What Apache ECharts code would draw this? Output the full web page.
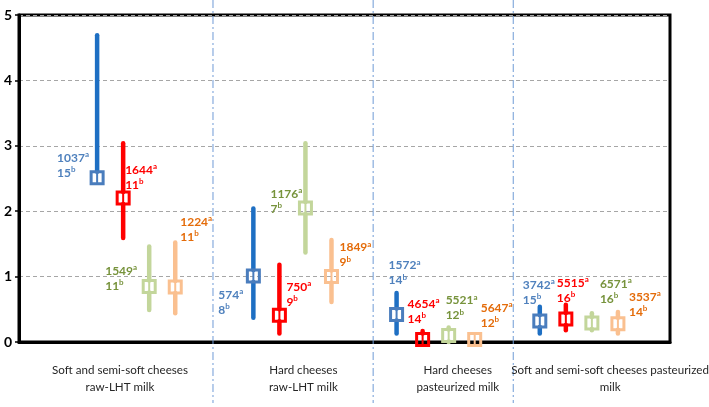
<!DOCTYPE html>
<html><head><meta charset="utf-8">
<script src="https://cdn.jsdelivr.net/npm/echarts@6/dist/echarts.min.js"></script>
<style>html,body{margin:0;padding:0;background:#fff}#c{width:709px;height:407px}</style>
</head><body><div id="c"></div>
<script>
// ---------- data ----------
const groups = ['Soft and semi-soft cheeses\nraw-LHT milk', 'Hard cheeses\nraw-LHT milk', 'Hard cheeses\npasteurized milk', 'Soft and semi-soft cheeses pasteurized\nmilk'];
const seriesNames = ['Series 1', 'Series 2', 'Series 3', 'Series 4'];
const yTicks = [0, 1, 2, 3, 4, 5];

const meanBlue   = [2.51, 1.01, 0.42, 0.32];
const lowBlue    = [2.51, 0.37, 0.13, 0.13];
const highBlue   = [4.69, 2.04, 0.75, 0.54];
const nBlue      = [1037, 574, 1572, 3742];
const kBlue      = [15, 8, 14, 15];

const meanRed    = [2.20, 0.41, 0.04, 0.35];
const lowRed     = [1.59, 0.13, 0.00, 0.18];
const highRed    = [3.04, 1.18, 0.17, 0.57];
const nRed       = [1644, 750, 4654, 5515];
const kRed       = [11, 9, 14, 16];

const meanGreen  = [0.85, 2.05, 0.10, 0.29];
const lowGreen   = [0.49, 1.37, 0.00, 0.18];
const highGreen  = [1.46, 3.04, 0.22, 0.44];
const nGreen     = [1549, 1176, 5521, 6571];
const kGreen     = [11, 7, 12, 16];

const meanOrange = [0.84, 1.00, 0.04, 0.28];
const lowOrange  = [0.44, 0.61, 0.00, 0.13];
const highOrange = [1.52, 1.56, 0.08, 0.46];
const nOrange    = [1224, 1849, 5647, 3537];
const kOrange    = [11, 9, 12, 14];

// ---------- layout / style ----------
const groupCenters = [4.5, 10.5, 16, 21.5];
const seriesOffsets = [-1.5, -0.5, 0.5, 1.5];
const separators = [7.45, 13.6, 18.98];
const labelCenters = [3.88, 10.92, 16.85, 22.7];
const styles = [
  {line: '#1E6FC3', box: '#4A7DBD', text: '#4F81BD'},
  {line: '#FF0000', box: '#FF0000', text: '#FF0000'},
  {line: '#C3D69B', box: '#C3D69B', text: '#77933C'},
  {line: '#FAC090', box: '#FAC090', text: '#E46C0A'}
];
// label offsets (px) relative to the marker: [dx of left edge, dy of first line centre]
const labelOffsets = [
  [[-40, -20], [-35, 19], [-8, -49], [-17, -36]],
  [[2, -28], [7, -28], [-15, -35], [-9, -36]],
  [[-44, -15], [-35, -14], [-3, -35], [8, -39]],
  [[5, -65], [8, -29], [6, -31], [11, -27]]
];

const means = [meanBlue, meanRed, meanGreen, meanOrange];
const lows = [lowBlue, lowRed, lowGreen, lowOrange];
const highs = [highBlue, highRed, highGreen, highOrange];
const ns = [nBlue, nRed, nGreen, nOrange];
const ks = [kBlue, kRed, kGreen, kOrange];
const FONT = 'Lato, "Open Sans", sans-serif';

function makeSeries(s) {
  const data = groups.map((g, i) => [groupCenters[i] + seriesOffsets[s], means[s][i], lows[s][i], highs[s][i], ns[s][i], ks[s][i], i]);
  const st = styles[s];
  return {
    type: 'custom', name: seriesNames[s], clip: false, z: 5 + s,
    encode: {x: 0, y: 1},
    data: data,
    renderItem: function (params, api) {
      const x = api.value(0), m = api.value(1), lo = api.value(2), hi = api.value(3);
      const n = api.value(4), k = api.value(5), gi = api.value(6);
      const pm = api.coord([x, m]), ph = api.coord([x, hi]), pl = api.coord([x, lo]);
      const half = 6;
      const ch = [];
      if (ph[1] < pm[1] - half) ch.push({type: 'line', shape: {x1: pm[0], y1: ph[1], x2: pm[0], y2: pm[1] - half}, style: {stroke: st.line, lineWidth: 4.5, lineCap: 'round'}});
      if (pl[1] > pm[1] + half) ch.push({type: 'line', shape: {x1: pm[0], y1: pm[1] + half, x2: pm[0], y2: pl[1]}, style: {stroke: st.line, lineWidth: 4.5, lineCap: 'round'}});
      ch.push({type: 'line', shape: {x1: pm[0], y1: pm[1] - half, x2: pm[0], y2: pm[1] + half}, style: {stroke: st.box, lineWidth: 2}});
      ch.push({type: 'rect', shape: {x: pm[0] - half, y: pm[1] - half, width: 2 * half, height: 2 * half}, style: {stroke: st.box, fill: null, lineWidth: 3}});
      const off = labelOffsets[s][gi];
      ch.push({type: 'text', style: {
        text: '{n|' + n + '}{s|a}\n{n|' + k + '}{s|b}',
        x: pm[0] + off[0], y: pm[1] + off[1] - 7.5,
        align: 'left', verticalAlign: 'top', fill: st.text,
        rich: {
          n: {fontSize: 12, fontWeight: 'bold', fontFamily: FONT, lineHeight: 15, fill: st.text},
          s: {fontSize: 8, fontWeight: 'bold', fontFamily: FONT, lineHeight: 8, verticalAlign: 'top', fill: st.text}
        }
      }});
      return {type: 'group', children: ch};
    }
  };
}

const chart = echarts.init(document.getElementById('c'), null, {renderer: 'canvas'});
const series = [0, 1, 2, 3].map(makeSeries);
series.unshift({
  type: 'custom', name: 'separators', clip: false, silent: true, z: 1,
  encode: {x: 0},
  data: separators.map(v => [v, 0]),
  renderItem: function (params, api) {
    const p = api.coord([api.value(0), 0]);
    return {type: 'line', shape: {x1: p[0], y1: 0, x2: p[0], y2: api.getHeight() - 4},
      style: {stroke: '#6F9BD6', lineWidth: 1, lineDash: [8, 3, 2, 3]}};
  }
});
// category labels below the axis
series.push({
  type: 'custom', name: 'groupLabels', clip: false, silent: true, z: 2,
  encode: {x: 0},
  data: labelCenters.map((v, i) => [v, 0, i]),
  renderItem: function (params, api) {
    const p = api.coord([api.value(0), 0]);
    return {type: 'text', style: {
      text: groups[api.value(2)], x: p[0], y: p[1] + 20,
      align: 'center', verticalAlign: 'top', fill: '#262626',
      fontFamily: FONT, fontSize: 11.6, lineHeight: 17
    }};
  }
});

chart.setOption({
  animation: false,
  backgroundColor: '#fff',
  grid: {left: 19, right: 39, top: 15, bottom: 65, show: true, borderColor: '#000', borderWidth: 3, backgroundColor: 'transparent'},
  xAxis: {
    type: 'value', min: 0, max: 25,
    axisLine: {show: true, onZero: false, lineStyle: {color: '#000', width: 3}},
    axisTick: {show: false},
    splitLine: {show: false},
    axisLabel: {show: false}
  },
  yAxis: {
    type: 'value', min: yTicks[0], max: yTicks[yTicks.length - 1], interval: 1,
    axisLine: {show: true, lineStyle: {color: '#000', width: 3}},
    axisTick: {show: true, length: 4, lineStyle: {color: '#000', width: 1.5}},
    axisLabel: {color: '#000', fontWeight: 'bold', fontSize: 14, fontFamily: FONT, margin: 7},
    splitLine: {show: true, lineStyle: {color: '#A6A6A6', type: [4, 3], width: 1}}
  },
  series: series
});
</script>
</body></html>
